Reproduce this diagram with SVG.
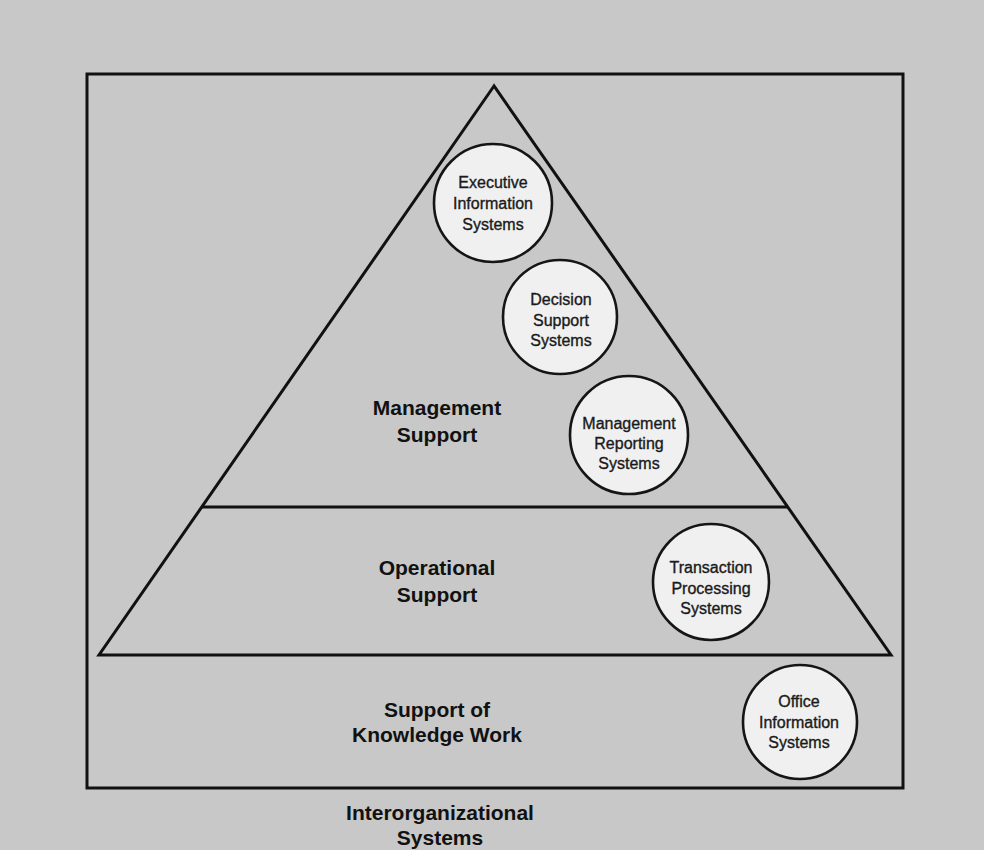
<svg xmlns="http://www.w3.org/2000/svg" width="984" height="850" viewBox="0 0 984 850">
  <style>
    .frame { fill: none; stroke: #111; stroke-width: 3; stroke-linejoin: miter; }
    .node circle { fill: #f0f0f0; stroke: #151515; stroke-width: 2.6; }
    .node text { font-family: "Liberation Sans", Arial, sans-serif; font-size: 16px; fill: #1a1a1a; stroke: #1a1a1a; stroke-width: 0.35; text-anchor: middle; }
    .lbl { font-family: "Liberation Sans", Arial, sans-serif; font-size: 21px; font-weight: bold; fill: #111; text-anchor: middle; }
  </style>
  <rect x="0" y="0" width="984" height="850" fill="#c8c8c8"/>

  <g id="connectors">
    <rect class="frame" x="87" y="74" width="816" height="714"/>
    <polygon class="frame" points="494,86 99,655 891,655"/>
    <line class="frame" x1="201" y1="507" x2="788" y2="507"/>
  </g>

  <g id="management-support"><text class="lbl" x="437" y="415">Management</text><text class="lbl" x="437" y="442">Support</text></g>
  <g id="operational-support"><text class="lbl" x="437" y="575">Operational</text><text class="lbl" x="437" y="602">Support</text></g>
  <g id="knowledge-work"><text class="lbl" x="437" y="717">Support of</text><text class="lbl" x="437" y="742">Knowledge Work</text></g>
  <g id="interorganizational"><text class="lbl" x="440" y="820">Interorganizational</text><text class="lbl" x="440" y="845">Systems</text></g>

  <g id="eis" class="node">
    <circle cx="493" cy="203" r="59"/>
    <text x="493" y="188">Executive</text>
    <text x="493" y="209">Information</text>
    <text x="493" y="230">Systems</text>
  </g>
  <g id="dss" class="node">
    <circle cx="560" cy="317" r="57"/>
    <text x="561" y="305">Decision</text>
    <text x="561" y="326">Support</text>
    <text x="561" y="346">Systems</text>
  </g>
  <g id="mrs" class="node">
    <circle cx="629" cy="435" r="59"/>
    <text x="629" y="429">Management</text>
    <text x="629" y="449">Reporting</text>
    <text x="629" y="469">Systems</text>
  </g>
  <g id="tps" class="node">
    <circle cx="711" cy="582" r="58"/>
    <text x="711" y="573">Transaction</text>
    <text x="711" y="594">Processing</text>
    <text x="711" y="614">Systems</text>
  </g>
  <g id="ois" class="node">
    <circle cx="800" cy="722" r="57"/>
    <text x="799" y="707">Office</text>
    <text x="799" y="728">Information</text>
    <text x="799" y="748">Systems</text>
  </g>
</svg>
